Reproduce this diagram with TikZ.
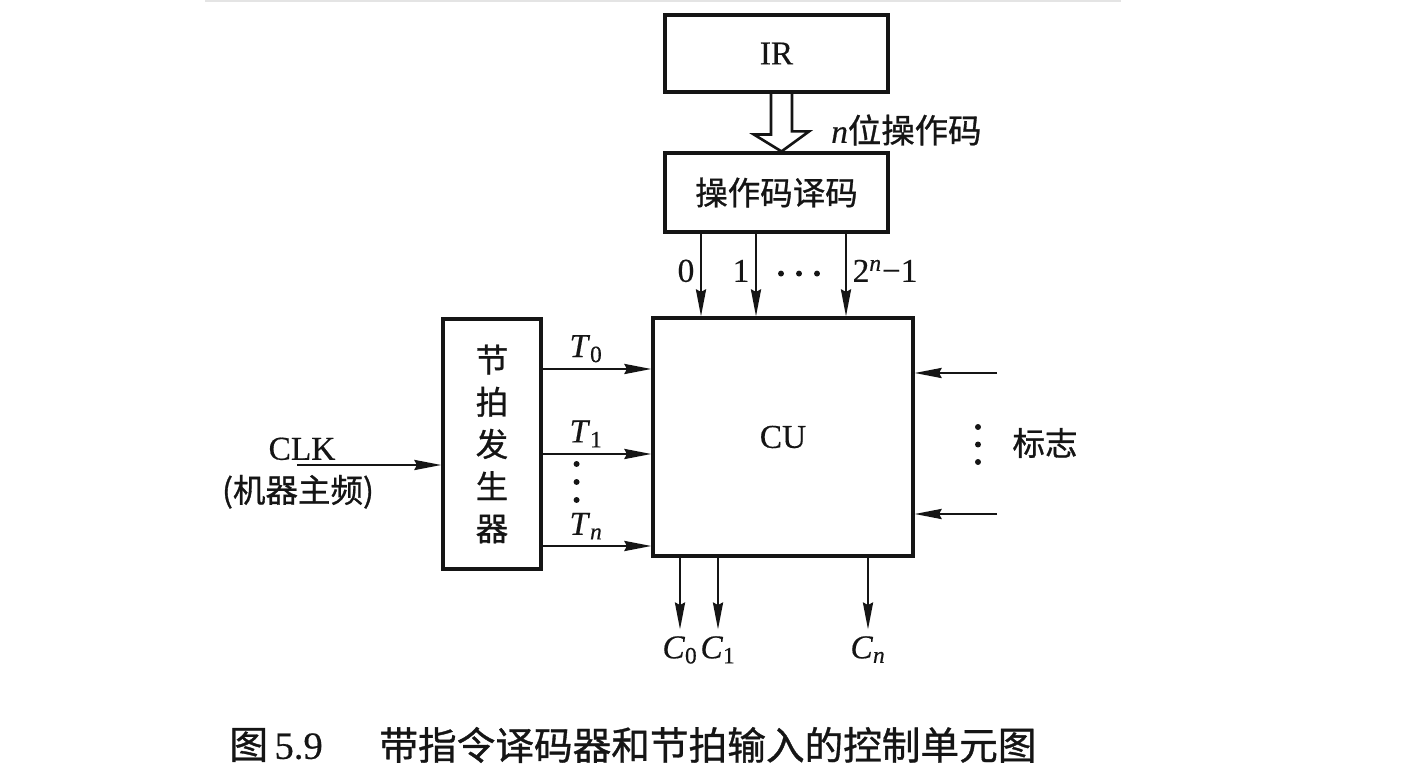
\documentclass[tikz,border=0pt]{standalone}
\usepackage{fontspec}
\setmainfont{Liberation Serif}[FakeBold=0.4]
\newfontfamily\cjk{Noto Sans CJK SC}[FakeBold=0.9]
\usetikzlibrary{calc,arrows.meta}
\definecolor{Ink}{HTML}{151515}
\definecolor{Edge}{HTML}{E4E4E4}
\NewDocumentCommand{\Sig}{m m}{\textit{#1}\textsubscript{#2}}

\begin{document}
\begin{tikzpicture}[x=0.02cm, y=-0.02cm, line width=1.6pt, draw=Ink,
    box/.style={draw=Ink, line width=1.8pt, inner sep=0pt},
    sig/.style={-{Stealth[length=0.54cm,width=0.2cm,inset=0.05cm]}},
    lab/.style={font=\fontsize{19}{21}\selectfont, text=Ink},
    zh/.style={font=\fontsize{18.5}{24}\cjk, text=Ink},
    captionzh/.style={font=\fontsize{22}{24}\cjk, text=Ink, inner sep=0pt}]
\useasboundingbox (0,0) rectangle (1414,776);
\draw[Edge, line width=0.6pt] (205,1) -- (1121,1);

% boxes
\node[box, minimum width=4.46cm, minimum height=1.54cm, lab] (ir) at (776.5,53.5) {IR};
\node[box, minimum width=4.46cm, minimum height=1.58cm, zh] (dec) at (776.5,192.5) {操作码译码};
\node[box, minimum width=5.2cm, minimum height=4.76cm, lab] (cu) at (783,437) {CU};
\node[box, minimum width=1.96cm, minimum height=5cm, zh, align=center] (gen) at (492,444)
    {节\\拍\\发\\生\\器};

% opcode bus
\coordinate (bus) at ($(ir.south)+(5,0)$);
\coordinate (bustip) at (bus |- dec.north);
\draw[line width=1.5pt] ($(bus)+(-10.5,0)$) -- ++(0,41) -- ++(-17,0) -- (bustip)
    -- ($(bustip)+(27.5,-20)$) -- ++(-17,0) -- ($(bus)+(10.5,0)$);
\node[lab, anchor=west] (opn) at (824,130) {\textit{n}{\cjk 位操作码}};

% decoder outputs
\coordinate (d0) at ($(dec.south)+(-75.5,0)$);
\coordinate (d1) at ($(dec.south)+(-20.5,0)$);
\coordinate (dn) at ($(dec.south)+(69.5,0)$);
\draw[sig] (d0) -- node[lab, left, inner sep=3pt, pos=0.45] {0} (d0 |- cu.north);
\draw[sig] (d1) -- node[lab, left, inner sep=3pt, pos=0.45] {1} (d1 |- cu.north);
\draw[sig] (dn) -- node[lab, right, inner sep=3pt, pos=0.45] {2\textsuperscript{\textit{n}}−1} (dn |- cu.north);
\foreach \k in {0,1,2}
    \fill[Ink] ($(d1)+(25+18*\k,40)$) circle (1.7pt);

% clock
\coordinate (clk) at (297,465);
\draw[sig] (clk) -- (clk -| gen.west);
\node[lab, anchor=south, inner sep=2pt] (clklab) at ($(clk)+(5,0)$) {CLK};
\node[zh, anchor=north, inner sep=2pt] (clkzh) at ($(clk)+(1,5)$) {(机器主频)};

% timing signals
\coordinate (t0) at ($(gen.east)+(0,-75)$);
\coordinate (t1) at ($(gen.east)+(0,10)$);
\coordinate (tn) at ($(gen.east)+(0,102)$);
\draw[sig] (t0) -- node[lab, above, pos=0.4, inner sep=3pt] {\Sig{T}{0}} (t0 -| cu.west);
\draw[sig] (t1) -- node[lab, above, pos=0.4, inner sep=3pt] {\Sig{T}{1}} (t1 -| cu.west);
\draw[sig] (tn) -- node[lab, above, pos=0.4, inner sep=3pt] {\Sig{T}{\textit{n}}} (tn -| cu.west);
\foreach \k in {0,1,2}
    \fill[Ink] ($(t1)+(34,10+18*\k)$) circle (1.7pt);

% flags
\coordinate (f0) at (997,373);
\coordinate (fn) at (997,514);
\draw[sig] (f0) -- (f0 -| cu.east);
\draw[sig] (fn) -- (fn -| cu.east);
\foreach \k in {0,1,2}
    \fill[Ink] (978,427+17.5*\k) circle (1.7pt);
\node[zh] (flag) at (1045,443) {标志};

% control signals
\coordinate (c0) at ($(cu.south)+(-103,0)$);
\coordinate (c1) at ($(cu.south)+(-65,0)$);
\coordinate (cn) at ($(cu.south)+(85,0)$);
\draw[sig] (c0) -- ++(0,72) node[lab, below, inner sep=3pt] {\Sig{C}{0}};
\draw[sig] (c1) -- ++(0,72) node[lab, below, inner sep=3pt] {\Sig{C}{1}};
\draw[sig] (cn) -- ++(0,72) node[lab, below, inner sep=3pt] {\Sig{C}{\textit{n}}};

% caption
\node[captionzh, anchor=west] (capnum) at (228,745) {图\,{\rmfamily 5.9}};
\node[captionzh, anchor=west] (captext) at (378,745) {带指令译码器和节拍输入的控制单元图};
\end{tikzpicture}
\end{document}
